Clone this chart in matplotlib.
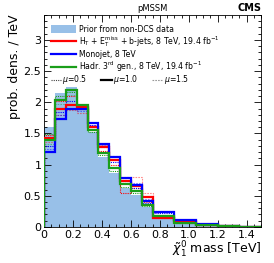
import numpy as np
import matplotlib
matplotlib.use("Agg")
import matplotlib.pyplot as plt
from matplotlib.lines import Line2D
from matplotlib.patches import Patch
from matplotlib.ticker import MultipleLocator

# bin edges of the neutralino mass histogram (TeV)
edges = [0, 0.075, 0.15, 0.225, 0.3, 0.375, 0.45, 0.525, 0.6, 0.675, 0.75, 0.9, 1.05, 1.2, 1.35, 1.5]

# prior from non-DCS data
prior = [1.60, 2.15, 2.25, 1.96, 1.52, 1.12, 0.87, 0.62, 0.52, 0.32, 0.17, 0.08, 0.03, 0.015, 0.005]

# posteriors, mu = 1.0 (solid)
htmht = [1.42, 1.89, 1.96, 1.92, 1.60, 1.28, 1.07, 0.73, 0.65, 0.48, 0.15, 0.09, 0.03, 0.01, 0.005]
monojet = [1.20, 1.73, 1.90, 1.90, 1.66, 1.33, 1.12, 0.79, 0.68, 0.42, 0.245, 0.11, 0.04, 0.01, 0.005]
hadr3 = [1.40, 2.03, 2.20, 1.95, 1.55, 1.19, 0.94, 0.69, 0.58, 0.36, 0.18, 0.07, 0.03, 0.01, 0.005]

# mu = 0.5 (dotted)
htmht_05 = [1.48, 2.02, 2.10, 1.90, 1.57, 1.22, 1.00, 0.55, 0.62, 0.40, 0.17, 0.08, 0.03, 0.01, 0.005]
monojet_05 = [1.30, 1.85, 2.02, 1.93, 1.63, 1.29, 1.05, 0.74, 0.63, 0.38, 0.22, 0.10, 0.04, 0.01, 0.005]
hadr3_05 = [1.49, 2.10, 2.17, 1.93, 1.52, 1.15, 0.90, 0.64, 0.54, 0.33, 0.16, 0.07, 0.03, 0.01, 0.005]

# mu = 1.5 (light dotted)
htmht_15 = [1.36, 1.80, 1.88, 1.82, 1.62, 1.31, 1.12, 0.80, 0.80, 0.54, 0.14, 0.09, 0.03, 0.01, 0.005]
monojet_15 = [1.25, 1.80, 1.95, 1.86, 1.64, 1.31, 1.14, 0.75, 0.71, 0.45, 0.26, 0.11, 0.04, 0.01, 0.005]
hadr3_15 = [1.33, 1.97, 2.12, 1.95, 1.55, 1.20, 0.95, 0.70, 0.59, 0.37, 0.19, 0.07, 0.03, 0.01, 0.005]

labels = [
    "H$_\\mathregular{T}$ + E$_\\mathregular{T}^\\mathregular{miss}$ + b-jets, 8 TeV, 19.4 fb$^\\mathregular{-1}$",
    "Monojet, 8 TeV",
    "Hadr. 3$^\\mathregular{rd}$ gen., 8 TeV, 19.4 fb$^\\mathregular{-1}$",
]
colors = ["#ff0000", "#0000ff", "#1a9e1a"]
fill_color = "#98c0e8"

fig = plt.figure(figsize=(2.74, 2.63), dpi=100)
ax = fig.add_axes([0.161, 0.137, 0.792, 0.806])

ax.stairs(prior, edges, fill=True, color=fill_color, zorder=1)

series = [(htmht, htmht_05, htmht_15), (monojet, monojet_05, monojet_15), (hadr3, hadr3_05, hadr3_15)]
for (s10, s05, s15), c in zip(series, colors):
    ax.stairs(s05, edges, color=c, lw=0.8, linestyle=(0, (1, 1)), zorder=2)
    ax.stairs(s15, edges, color=c, lw=0.8, linestyle=(0, (1.5, 1)), alpha=0.45, zorder=2)
for (s10, s05, s15), c in zip(series, colors):
    ax.stairs(s10, edges, color=c, lw=1.6, zorder=3)

ax.set_xlim(0, 1.5)
ax.set_ylim(0, 3.4)

# root style ticks
ax.xaxis.set_major_locator(MultipleLocator(0.2))
ax.xaxis.set_minor_locator(MultipleLocator(0.05))
ax.yaxis.set_major_locator(MultipleLocator(0.5))
ax.yaxis.set_minor_locator(MultipleLocator(0.1))
ax.tick_params(which="both", direction="in", top=True, right=True, labelsize=8, pad=2)
ax.tick_params(which="major", length=5, width=0.6)
ax.tick_params(which="minor", length=2.5, width=0.6)
for sp in ax.spines.values():
    sp.set_linewidth(0.6)
ax.xaxis.set_major_formatter(plt.FuncFormatter(lambda v, p: "0" if v == 0 else f"{v:.1f}"))
ax.yaxis.set_major_formatter(plt.FuncFormatter(lambda v, p: "0" if v == 0 else f"{v:g}"))

ax.set_ylabel("prob. dens. / TeV", fontsize=9, loc="top", labelpad=2)
ax.set_xlabel("$\\tilde{\\chi}_\\mathregular{1}^\\mathregular{0}$ mass [TeV]", fontsize=9, loc="right", labelpad=0)

ax.text(0.5, 1.01, "pMSSM", transform=ax.transAxes, ha="center", va="bottom", fontsize=6)
ax.text(1.0, 1.01, "CMS", transform=ax.transAxes, ha="right", va="bottom", fontsize=7, fontweight="bold")

# legends
handles = [Patch(facecolor=fill_color, edgecolor="none")]
handles += [Line2D([], [], color=c, lw=1.6) for c in colors]
leg1 = ax.legend(handles, ["Prior from non-DCS data"] + labels, loc="upper left",
                 bbox_to_anchor=(0.03, 0.955), frameon=False, fontsize=5.6,
                 handlelength=3.2, handleheight=1.25, labelspacing=0.1, handletextpad=0.4,
                 borderaxespad=0, borderpad=0)
ax.add_artist(leg1)

mu_handles = [
    Line2D([], [], color="#444444", lw=0.8, linestyle=(0, (1, 1))),
    Line2D([], [], color="black", lw=1.6),
    Line2D([], [], color="#999999", lw=0.8, linestyle=(0, (1.5, 1))),
]
ax.legend(mu_handles, ["$\\mu$=0.5", "$\\mu$=1.0", "$\\mu$=1.5"], loc="upper left",
          bbox_to_anchor=(0.03, 0.725), frameon=False, fontsize=5.6, ncol=3,
          handlelength=1.3, handletextpad=0.2, columnspacing=1.8,
          borderaxespad=0, borderpad=0)

fig.savefig("out.png", dpi=100)
